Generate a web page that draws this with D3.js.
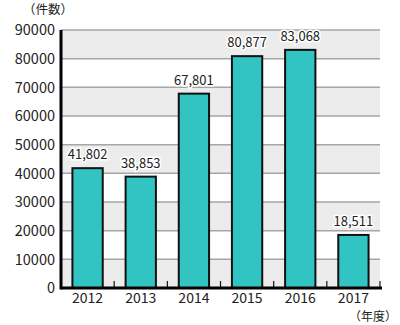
<!DOCTYPE html>
<html>
<head>
<meta charset="utf-8">
<script src="https://cdn.jsdelivr.net/npm/d3@7"></script>
<style>
  html, body { margin: 0; padding: 0; background: #fff; }
  svg { display: block; font-family: "Noto Sans CJK JP", "Noto Sans", sans-serif; }
</style>
</head>
<body>
<svg id="chart" width="400" height="325"></svg>
<script>
// Annual case counts by fiscal year
const years = ["2012", "2013", "2014", "2015", "2016", "2017"];
const counts = [41802, 38853, 67801, 80877, 83068, 18511];
const yTicks = [0, 10000, 20000, 30000, 40000, 50000, 60000, 70000, 80000, 90000];

const svg = d3.select("#chart");
const margin = { left: 61, right: 20, top: 30, bottom: 37 };
const W = 400, H = 325;

const x = d3.scaleBand().domain(years).range([margin.left, W - margin.right]).paddingInner(0.43).paddingOuter(0.215);
const xOuter = d3.scaleBand().domain(years).range([margin.left, W - margin.right]);
const y = d3.scaleLinear().domain([0, 90000]).range([H - margin.bottom, margin.top]);

// alternating background bands
const bands = d3.range(0, 90000, 10000).filter((d, i) => i % 2 === 0);
svg.append("g").selectAll("rect").data(bands).join("rect")
  .attr("x", margin.left).attr("width", W - margin.right - margin.left)
  .attr("y", d => y(d + 10000)).attr("height", d => y(d) - y(d + 10000))
  .attr("fill", "#ececec");

// horizontal gridlines
svg.append("g").selectAll("line").data(yTicks.slice(1)).join("line")
  .attr("x1", margin.left).attr("x2", W - margin.right)
  .attr("y1", d => y(d)).attr("y2", d => y(d))
  .attr("stroke", "#a6a6a6").attr("stroke-width", 1.5);

// y tick labels
svg.append("g").selectAll("text").data(yTicks).join("text")
  .attr("x", 55).attr("y", d => y(d)).attr("dy", "0.36em")
  .attr("text-anchor", "end").attr("font-size", 14.5).attr("fill", "#222")
  .text(d => d);

// bars
svg.append("g").selectAll("rect").data(counts).join("rect")
  .attr("x", (d, i) => x(years[i])).attr("width", x.bandwidth())
  .attr("y", d => y(d)).attr("height", d => y(0) - y(d))
  .attr("fill", "#31c4c3").attr("stroke", "#111").attr("stroke-width", 2);

// value labels with white halo
svg.append("g").selectAll("text").data(counts).join("text")
  .attr("x", (d, i) => x(years[i]) + x.bandwidth() / 2)
  .attr("y", d => y(d) - 9)
  .attr("text-anchor", "middle").attr("font-size", 13).attr("fill", "#222")
  .attr("stroke", "#fff").attr("stroke-width", 3).attr("paint-order", "stroke")
  .text(d => d3.format(",")(d));

// category boundary ticks
svg.append("g").selectAll("line").data(years.slice(1).concat(["end"])).join("line")
  .attr("x1", (d, i) => xOuter(years[0]) + xOuter.step() * (i + 1))
  .attr("x2", (d, i) => xOuter(years[0]) + xOuter.step() * (i + 1))
  .attr("y1", y(0)).attr("y2", y(0) - 7)
  .attr("stroke", "#111").attr("stroke-width", 1.2);

// axes lines
svg.append("line").attr("x1", margin.left).attr("x2", margin.left)
  .attr("y1", y(90000)).attr("y2", y(0) + 1.5).attr("stroke", "#000").attr("stroke-width", 3);
svg.append("line").attr("x1", margin.left).attr("x2", W - margin.right + 2)
  .attr("y1", y(0)).attr("y2", y(0)).attr("stroke", "#000").attr("stroke-width", 3);

// x labels
svg.append("g").selectAll("text").data(years).join("text")
  .attr("x", d => x(d) + x.bandwidth() / 2).attr("y", y(0) + 15)
  .attr("text-anchor", "middle").attr("font-size", 14).attr("fill", "#222")
  .text(d => d);

// unit labels
svg.append("text").attr("x", 48).attr("y", 14).attr("text-anchor", "middle")
  .attr("font-size", 12.5).attr("fill", "#222").text("（件数）");
svg.append("text").attr("x", 397).attr("y", 321).attr("text-anchor", "end")
  .attr("font-size", 12).attr("fill", "#222").text("（年度）");
</script>
</body>
</html>
